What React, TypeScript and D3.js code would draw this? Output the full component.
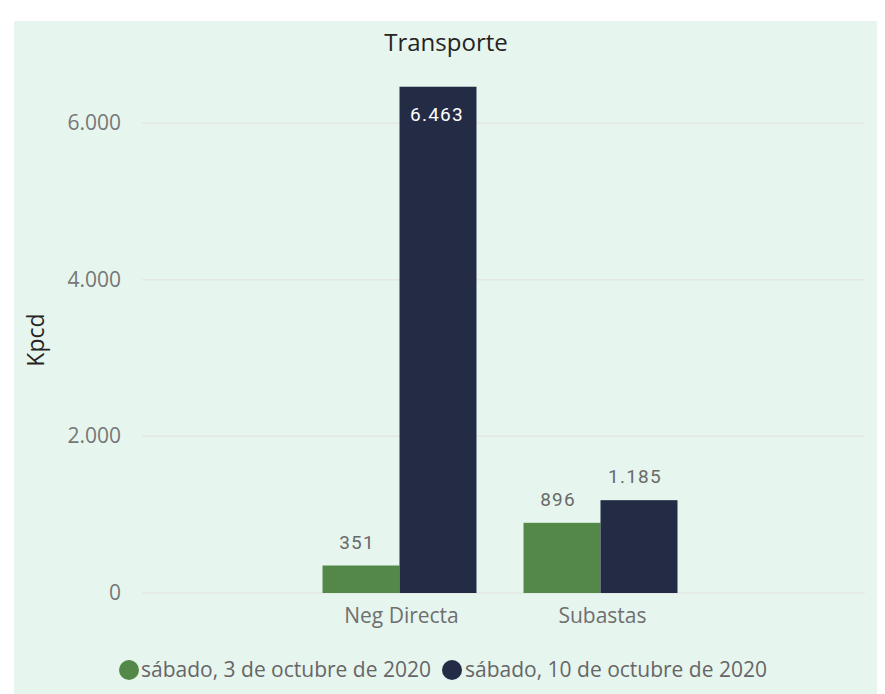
import React from 'react'
import * as d3 from 'd3'

// chart data
const categories = ['Neg Directa', 'Subastas']
const seriesNames = ['sábado, 3 de octubre de 2020', 'sábado, 10 de octubre de 2020']
const oct3Values = [351, 896]
const oct10Values = [6463, 1185]
const yTicks = [0, 2000, 4000, 6000]

const colors = ['#548848', '#242c45']

const App = () => {
  const width = 885,
    height = 694

  // plot box
  const plotLeft = 142,
    plotRight = 865,
    plotBottom = 593

  // spanish number format: 6.463
  const locale = d3.formatLocale({ decimal: ',', thousands: '.', grouping: [3], currency: ['', ''] })
  const fmt = locale.format(',')

  const y = d3
    .scaleLinear()
    .domain([0, 6000])
    .range([plotBottom, plotBottom - 470])

  // categories sit in the middle of the plot, not spread across it
  const x0 = d3
    .scaleBand()
    .domain(categories)
    .range([299, 701])
    .paddingInner(0.234)
    .paddingOuter(0.117)

  const x1 = d3
    .scaleBand()
    .domain(seriesNames)
    .range([0, x0.bandwidth()])

  const series = [oct3Values, oct10Values]

  const font = '"Segoe UI", "Open Sans", "Noto Sans", sans-serif'
  const labelFont = 'Roboto, "DejaVu Sans Condensed", sans-serif'

  // legend layout
  const legendY = 670
  const legendItems = [
    { name: seriesNames[0], cx: 129, tx: 141 },
    { name: seriesNames[1], cx: 452, tx: 465 },
  ]

  return (
    <svg
      width={width}
      height={height}
      style={{ position: 'absolute', left: 0, top: 0, background: '#ffffff' }}
    >
      <rect x={14} y={21} width={863} height={height - 21} fill="#e6f5ee" />

      <text x={446} y={51} textAnchor="middle" fontFamily={font} fontSize={24} fill="#252423">
        Transporte
      </text>

      <text
        transform={`translate(44, ${340}) rotate(-90)`}
        textAnchor="middle"
        fontFamily={font}
        fontSize={23}
        fill="#252423"
      >
        Kpcd
      </text>

      {/* grid lines and y labels */}
      {yTicks.map(t => (
        <g key={t}>
          <line x1={plotLeft} x2={plotRight} y1={y(t)} y2={y(t)} stroke="#e4e8e5" strokeWidth={1.5} />
          <text
            x={121}
            y={y(t) + 7}
            textAnchor="end"
            fontFamily={font}
            fontSize={21}
            fill="#777777"
          >
            {fmt(t)}
          </text>
        </g>
      ))}

      {/* bars */}
      {categories.map((c, ci) => (
        <g key={c} transform={`translate(${x0(c)}, 0)`}>
          {series.map((vals, si) => {
            const v = vals[ci]
            const bx = x1(seriesNames[si]) as number
            const bw = x1.bandwidth()
            const top = y(v)
            const inside = v > 5000
            return (
              <g key={si}>
                <rect x={bx} y={top} width={bw} height={y(0) - top} fill={colors[si]} />
                <text
                  x={bx + bw / 2 - (inside ? 1 : 4)}
                  y={inside ? top + 34 : top - 17}
                  textAnchor="middle"
                  fontFamily={labelFont}
                  fontSize={19}
                  letterSpacing={1.2}
                  fill={inside ? '#ffffff' : '#6a6a6a'}
                >
                  {fmt(v)}
                </text>
              </g>
            )
          })}
          <text
            x={x0.bandwidth() / 2 + 2}
            y={623}
            textAnchor="middle"
            fontFamily={font}
            fontSize={21}
            fill="#6f6f6f"
          >
            {c}
          </text>
        </g>
      ))}

      {/* legend */}
      {legendItems.map((d, i) => (
        <g key={d.name}>
          <circle cx={d.cx} cy={legendY} r={10} fill={colors[i]} />
          <text x={d.tx} y={legendY + 7} fontFamily={font} fontSize={21} fill="#666666">
            {d.name}
          </text>
        </g>
      ))}
    </svg>
  )
}

export default App
